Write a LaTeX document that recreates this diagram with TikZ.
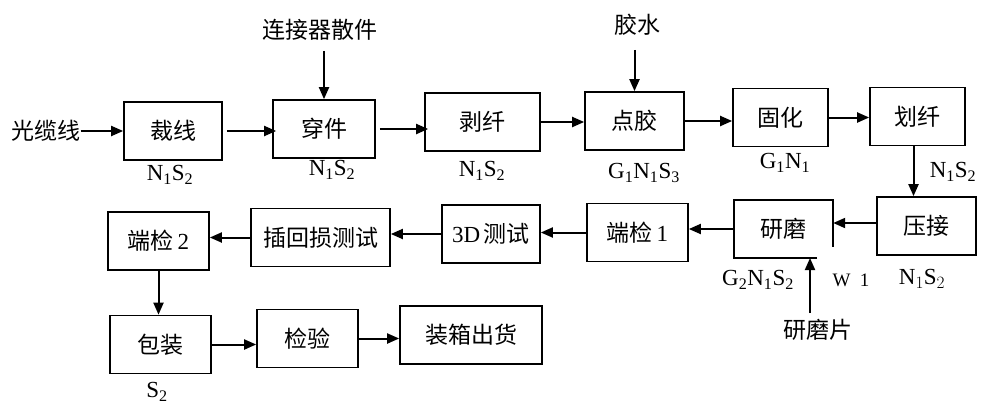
\documentclass[tikz,border=0pt]{standalone}
\usepackage{fontspec}
\setmainfont{Liberation Serif}
\newfontfamily\cjk{Noto Sans CJK SC}
\usetikzlibrary{arrows.meta}
\begin{document}
\begin{tikzpicture}[x=1pt,y=-1pt,
  box/.style={draw,line width=1.7pt,minimum height=58pt,inner sep=0pt,font=\cjk\fontsize{23}{26}\selectfont},
  nobox/.style={minimum height=58pt,inner sep=0pt,font=\cjk\fontsize{23}{26}\selectfont},
  arr/.style={line width=2pt,-{Triangle[length=12pt,width=10pt]}},
  lab/.style={font=\fontsize{23}{26}\selectfont,inner sep=0pt},
  cjklab/.style={font=\cjk\fontsize{23}{26}\selectfont,inner sep=0pt}]
\useasboundingbox (0,0) rectangle (981,407);
% row 1
\node[cjklab] (gl) at (46,131) {光缆线};
\node[box,minimum width=98pt] (cx) at (173,131) {裁线};
\node[box,minimum width=102pt] (cj) at (324,129) {穿件};
\node[box,minimum width=115pt] (bx) at (482.5,122) {剥纤};
\node[box,minimum width=99pt] (dj) at (634.5,121) {点胶};
\node[box,minimum width=95pt] (gh) at (780.5,117.5) {固化};
\node[box,minimum width=95pt] (hx) at (917.5,116.5) {划纤};
\node[cjklab] (lj) at (320,30) {连接器散件};
\node[cjklab] (js) at (637,25) {胶水};
\node[lab] (l1) at (170,175) {N\textsubscript{1}S\textsubscript{2}};
\node[lab] (l2) at (332,170) {N\textsubscript{1}S\textsubscript{2}};
\node[lab] (l3) at (482,171) {N\textsubscript{1}S\textsubscript{2}};
\node[lab] (l4) at (644,173) {G\textsubscript{1}N\textsubscript{1}S\textsubscript{3}};
\node[lab] (l5) at (785,163) {G\textsubscript{1}N\textsubscript{1}};
\node[lab] (l6) at (953,172) {N\textsubscript{1}S\textsubscript{2}};
% row 2
\node[box,minimum width=101pt] (dj2) at (158.5,241) {端检\,{\rmfamily 2}};
\node[box,minimum width=139pt] (ch) at (320.5,237.5) {插回损测试};
\node[box,minimum width=98pt] (cs) at (491,234) {{\rmfamily 3D}\,测试};
\node[box,minimum width=101pt] (dj1) at (637.5,232.5) {端检\,{\rmfamily 1}};
\node[nobox,minimum width=99pt] (ym) at (783.5,229) {研磨};
\node[box,minimum width=99pt] (yj) at (926.5,226) {压接};
\node[lab] (l7) at (758,280) {G\textsubscript{2}N\textsubscript{1}S\textsubscript{2}};
\node[lab,font=\fontsize{19}{22}\selectfont] (w1) at (851,280) {W\ \ 1};
\node[lab] (l8) at (922,279) {N$_{1}$S$_{2}$};
\node[cjklab] (ymp) at (818,330) {研磨片};
% row 3
\node[box,minimum width=101pt] (bz) at (160.5,344.5) {包装};
\node[box,minimum width=101pt] (jy) at (307.5,338.5) {检验};
\node[box,minimum width=142pt] (zx) at (471,335) {装箱出货};
\node[lab] (l9) at (157,392) {S\textsubscript{2}};
% broken frame of 研磨
\draw[line width=1.7pt] ([xshift=-16pt]ym.south east) -- (ym.south west) -- (ym.north west) -- (ym.north east) -- ([yshift=11pt]ym.south east);
% arrows row 1
\draw[arr] (gl.east) -- (gl.east -| cx.west);
\draw[arr] ([xshift=4pt]cx.east) -- ([xshift=4pt]cx.east -| cj.west);
\draw[arr] ([xshift=4pt]cj.east) -- ([xshift=4pt]cj.east -| bx.west);
\draw[arr] (bx.east) -- (bx.east -| dj.west);
\draw[arr] (dj.east) -- (dj.east -| gh.west);
\draw[arr] (gh.east) -- (gh.east -| hx.west);
\draw[arr] (lj.south -| cj.north) ++(0,10) -- (cj.north);
\draw[arr] (js.south -| dj.north) ++(0,14) -- (dj.north);
\draw[arr] ([xshift=-4pt]hx.south) -- ([xshift=-4pt]hx.south |- yj.north);
% arrows row 2
\draw[arr] ([yshift=3pt]yj.west) -- ([yshift=3pt]yj.west -| ym.east);
\draw[arr] (ym.west) -- (ym.west -| dj1.east);
\draw[arr] (dj1.west) -- (dj1.west -| cs.east);
\draw[arr] (cs.west) -- (cs.west -| ch.east);
\draw[arr] (ch.west) -- (ch.west -| dj2.east);
\draw[arr] (ymp.north -| 810,0) ++(0,-6) -- (810,258);
\draw[arr] (dj2.south) -- (dj2.south |- bz.north);
% arrows row 3
\draw[arr] (bz.east) -- (bz.east -| jy.west);
\draw[arr] (jy.east) -- (jy.east -| zx.west);
\end{tikzpicture}
\end{document}
